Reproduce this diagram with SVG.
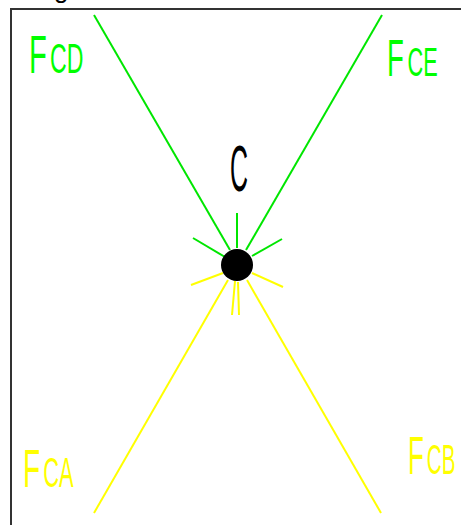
<svg xmlns="http://www.w3.org/2000/svg" width="461" height="525" viewBox="0 0 461 525">
<style>
text{font-family:"Liberation Sans",Arial,sans-serif}
.g{fill:#00ff00}
.y{fill:#ffff00}
.k{fill:#000}
.gl{stroke:#00e600;stroke-width:2;fill:none}
.yl{stroke:#ffff00;stroke-width:2;fill:none}
</style>
<rect width="461" height="525" fill="#fff"/>
<text class="k" x="54" y="-2" font-size="26">g</text>
<path d="M11 525 V9 H461" stroke="#333" stroke-width="2" fill="none"/>
<g id="connectors">
<line class="gl" x1="94" y1="15" x2="230" y2="250"/>
<line class="gl" x1="382" y1="15" x2="246" y2="250"/>
<line class="yl" x1="94" y1="513" x2="228" y2="280"/>
<line class="yl" x1="381" y1="513" x2="247" y2="280"/>
<line class="gl" x1="237" y1="213" x2="237" y2="248"/>
<line class="gl" x1="193" y1="238" x2="225" y2="257"/>
<line class="gl" x1="282" y1="239" x2="252" y2="256"/>
<line class="yl" x1="191" y1="285" x2="223" y2="273"/>
<line class="yl" x1="283" y1="287" x2="252" y2="273"/>
<line class="yl" x1="232" y1="315" x2="235" y2="281"/>
<line class="yl" x1="239" y1="315" x2="238" y2="282"/>
</g>
<g id="C">
<circle cx="237" cy="265" r="16" fill="#000"/>
<text class="k" x="230" y="191" font-size="64" textLength="18" lengthAdjust="spacingAndGlyphs">C</text>
</g>
<g id="FCD">
<text class="g" transform="translate(29,73) scale(0.55,1)"><tspan font-size="53">F</tspan><tspan font-size="42" dx="6">CD</tspan></text>
</g>
<g id="FCE">
<text class="g" transform="translate(387,76) scale(0.53,1)"><tspan font-size="52">F</tspan><tspan font-size="41" dx="7">CE</tspan></text>
</g>
<g id="FCA">
<text class="y" transform="translate(23,487) scale(0.52,1)"><tspan font-size="54">F</tspan><tspan font-size="42" dx="6">CA</tspan></text>
</g>
<g id="FCB">
<text class="y" transform="translate(408,474) scale(0.49,1)"><tspan font-size="53">F</tspan><tspan font-size="42" dx="6">CB</tspan></text>
</g>
</svg>
